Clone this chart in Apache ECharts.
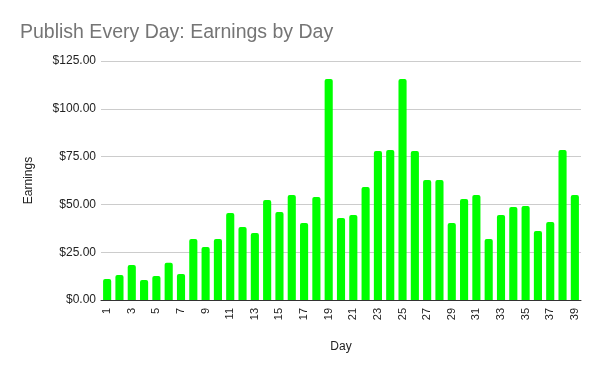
<!DOCTYPE html>
<html><head><meta charset="utf-8">
<script src="https://cdn.jsdelivr.net/npm/echarts@6/dist/echarts.min.js"></script>
<style>html,body{margin:0;padding:0;background:#fff}#c{width:600px;height:371px}</style>
</head><body><div id="c"></div>
<script>
const days = Array.from({length:39},(_, i)=>String(i+1));
const earnings = [11.0,13.1,18.3,10.5,12.6,19.5,13.6,31.9,27.7,31.9,45.5,38.2,35.0,52.3,46.0,54.9,40.3,53.9,115.6,42.9,44.5,59.1,77.9,78.5,115.6,77.9,62.8,62.8,40.3,52.8,54.9,31.9,44.5,48.6,49.2,36.1,40.8,78.5,54.9];
const chart = echarts.init(document.getElementById('c'));
chart.setOption({
  animation:false,
  textStyle:{fontFamily:'Liberation Sans, Arial, sans-serif'},
  title:{text:'Publish Every Day: Earnings by Day',left:15,top:18,textStyle:{fontSize:19.5,fontWeight:'normal',color:'#757575',fontFamily:'Liberation Sans, Arial, sans-serif'}},
  grid:{left:101,right:19,top:61,bottom:71},
  xAxis:{type:'category',data:days,name:'Day',nameLocation:'middle',nameGap:41,
    nameTextStyle:{fontSize:12,color:'#222'},
    axisLine:{lineStyle:{color:'#333',width:1}},axisTick:{show:false},
    axisLabel:{rotate:90,interval:1,fontSize:11,color:'#222',margin:8}},
  yAxis:{type:'value',min:0,max:125,interval:25,name:'Earnings',nameLocation:'middle',nameGap:66,
    nameTextStyle:{fontSize:12,color:'#222'},
    axisLabel:{formatter:v=>'$'+v.toFixed(2),fontSize:12,color:'#222',margin:5},
    splitLine:{lineStyle:{color:'#cccccc'}},axisLine:{show:false},axisTick:{show:false}},
  series:[{type:'bar',data:earnings,barWidth:'66%',itemStyle:{color:'#00ff00',borderRadius:[2,2,0,0]}}]
});
</script></body></html>
